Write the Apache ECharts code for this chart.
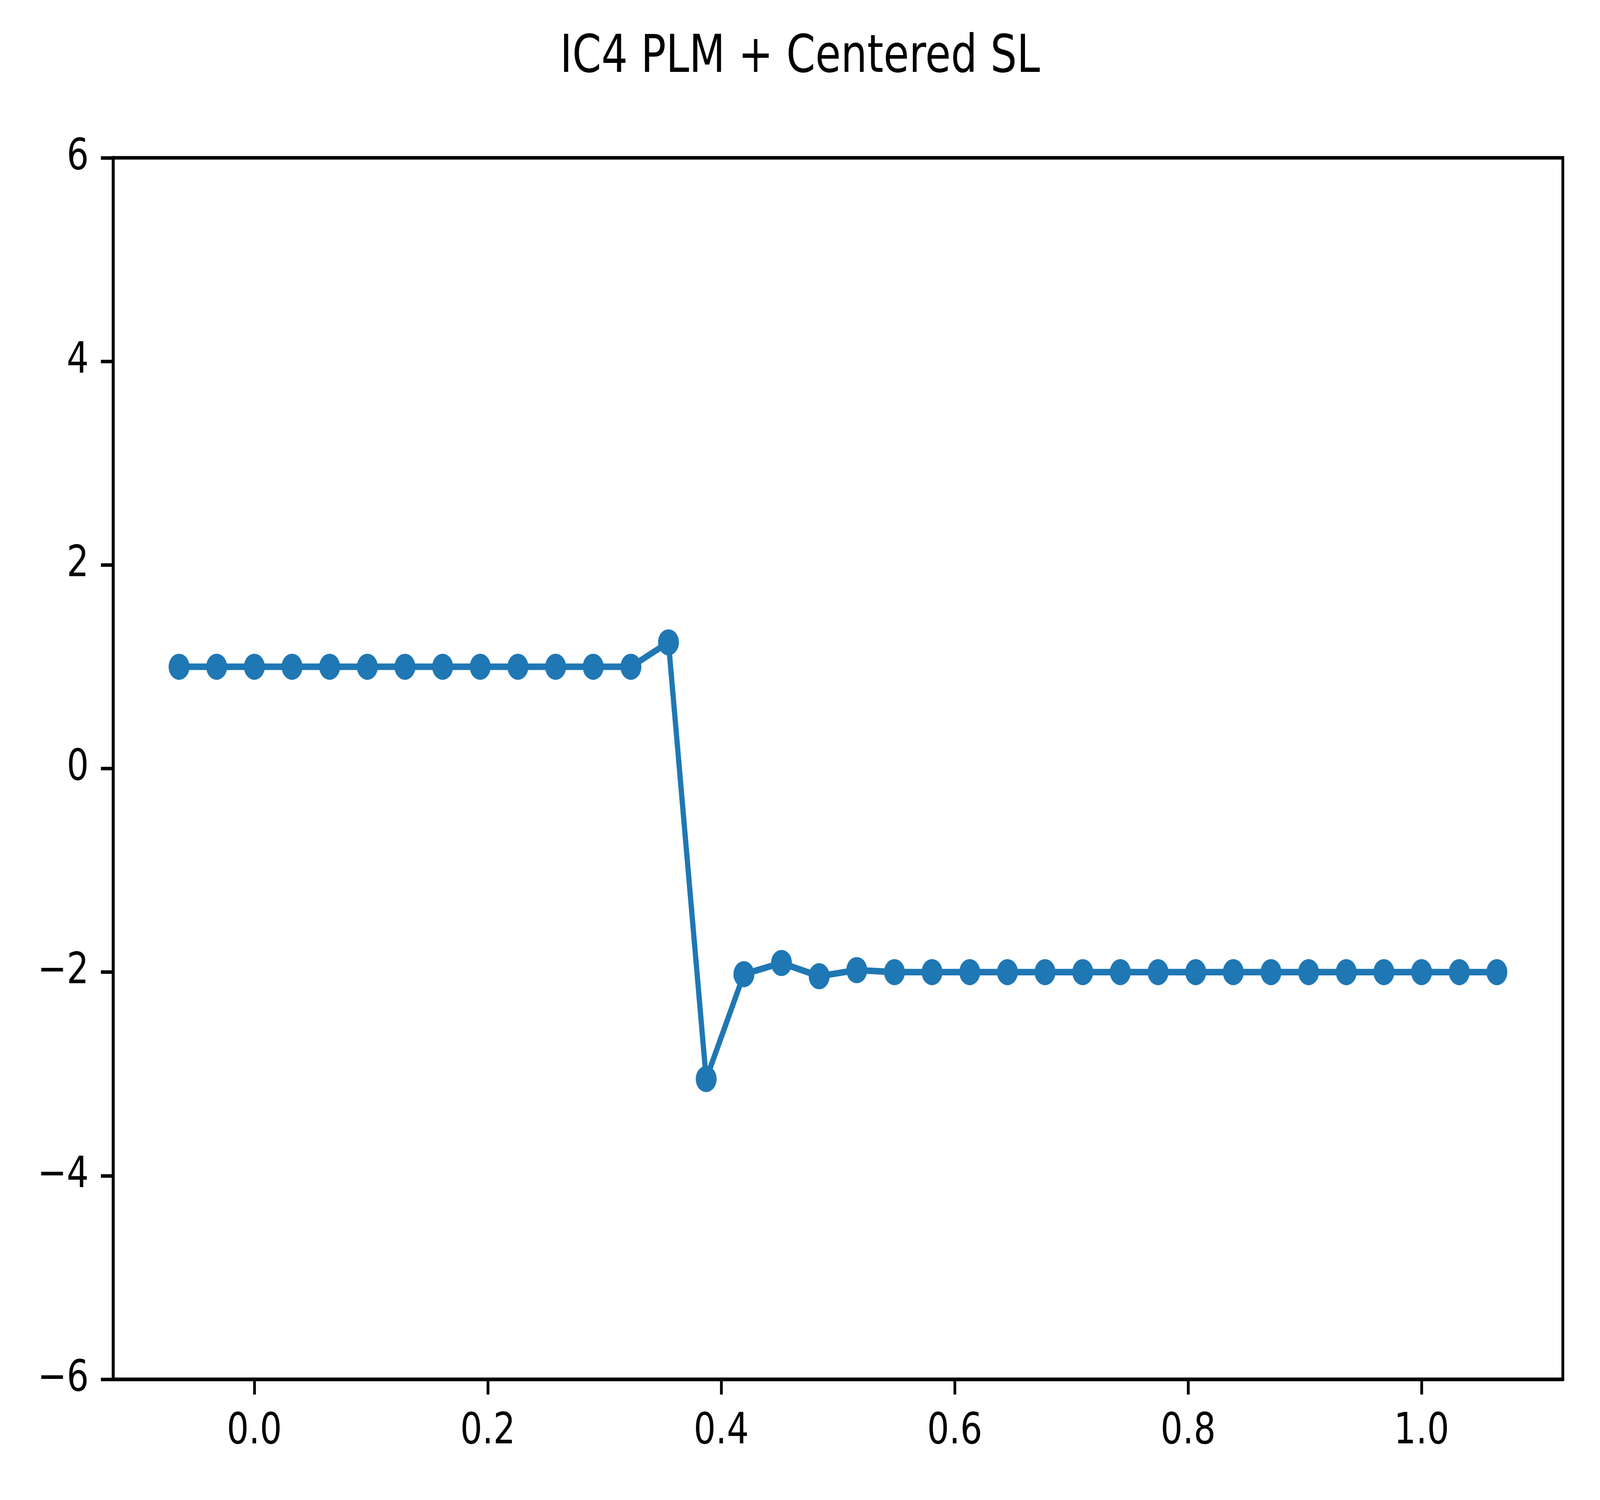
<!DOCTYPE html>
<html>
<head>
<meta charset="utf-8">
<title>IC4 PLM + Centered SL</title>
<script src="https://cdn.jsdelivr.net/npm/echarts@6/dist/echarts.min.js"></script>
<style>
  html, body { margin: 0; padding: 0; background: #fff; overflow: hidden; }
  #chart { width: 5120px; height: 3840px; transform-origin: 0 0; }
</style>
</head>
<body>
<div id="chart"></div>
<script>
const titleText = "IC4 PLM + Centered SL";

// cell positions and values
const xValues = [
  -0.0645, -0.0323, 0.0, 0.0323, 0.0645, 0.0968, 0.1290, 0.1613, 0.1935,
  0.2258, 0.2581, 0.2903, 0.3226, 0.3548, 0.3871, 0.4194, 0.4516, 0.4839,
  0.5161, 0.5484, 0.5806, 0.6129, 0.6452, 0.6774, 0.7097, 0.7419, 0.7742,
  0.8065, 0.8387, 0.8710, 0.9032, 0.9355, 0.9677, 1.0, 1.0323, 1.0645,
];
const yValues = [
  1.0, 1.0, 1.0, 1.0, 1.0, 1.0, 1.0, 1.0, 1.0, 1.0, 1.0, 1.0, 1.0,
  1.24, -3.05, -2.02, -1.91, -2.04, -1.98,
  -2.0, -2.0, -2.0, -2.0, -2.0, -2.0, -2.0, -2.0, -2.0, -2.0, -2.0,
  -2.0, -2.0, -2.0, -2.0, -2.0, -2.0,
];
const xTicks = [0.0, 0.2, 0.4, 0.6, 0.8, 1.0];
const xRange = [-0.121, 1.121];
const yRange = [-6, 6];

const ink = "#000000";
const blue = "#1f77b4";
const font = "DejaVu Sans";
const axisWidth = 8.9;
const tickLen = 39;

// the figure is laid out at 5120x3840; fit it to whatever window we get
const el = document.getElementById("chart");
function fit() {
  el.style.transform = `scale(${window.innerWidth / 5120}, ${window.innerHeight / 3840})`;
}
fit();

const minus = (v) => (v < 0 ? "\u2212" + Math.abs(v) : String(v));

const chart = echarts.init(el, null, { renderer: "canvas", width: 5120, height: 3840 });
chart.setOption({
  animation: false,
  backgroundColor: "#ffffff",
  textStyle: { fontFamily: font, color: ink },
  title: {
    text: titleText,
    left: "center",
    top: 78,
    textStyle: { fontFamily: font, fontSize: 133, fontWeight: "normal", color: ink },
  },
  grid: {
    left: 362,
    right: 119,
    top: 404,
    bottom: 309,
    show: true,
    borderColor: ink,
    borderWidth: axisWidth,
    backgroundColor: "transparent",
  },
  xAxis: {
    type: "value",
    min: xRange[0],
    max: xRange[1],
    axisLine: { show: true, onZero: false, lineStyle: { color: ink, width: axisWidth } },
    axisTick: {
      show: true,
      length: tickLen,
      customValues: xTicks,
      lineStyle: { color: ink, width: axisWidth },
    },
    axisLabel: {
      customValues: xTicks,
      margin: 80,
      fontSize: 111,
      fontFamily: font,
      color: ink,
      formatter: (v) => v.toFixed(1),
    },
    splitLine: { show: false },
  },
  yAxis: {
    type: "value",
    min: yRange[0],
    max: yRange[1],
    interval: 2,
    axisLine: { show: true, onZero: false, lineStyle: { color: ink, width: axisWidth } },
    axisTick: { show: true, length: tickLen, lineStyle: { color: ink, width: axisWidth } },
    axisLabel: {
      margin: 78,
      fontSize: 111,
      fontFamily: font,
      color: ink,
      formatter: minus,
    },
    splitLine: { show: false },
  },
  series: [{
    type: "line",
    data: xValues.map((x, i) => [x, yValues[i]]),
    symbol: "circle",
    symbolSize: 67,
    showAllSymbol: true,
    lineStyle: { color: blue, width: 16.7 },
    itemStyle: { color: blue, borderWidth: 0 },
    emphasis: { disabled: true },
  }],
});
window.addEventListener("resize", fit);
</script>
</body>
</html>
